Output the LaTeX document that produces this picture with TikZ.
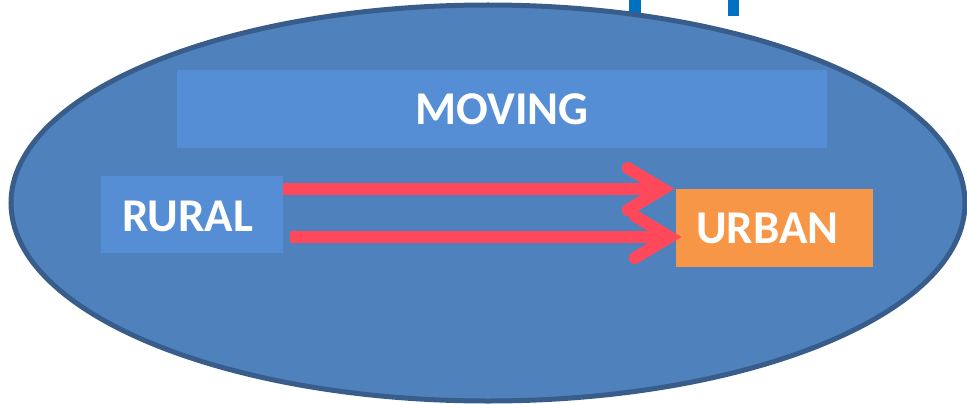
\documentclass[tikz,border=0pt]{standalone}
\usepackage{fontspec}
\setmainfont{Carlito}
\usetikzlibrary{calc}
\definecolor{ellfill}{RGB}{79,129,189}
\definecolor{elldraw}{RGB}{56,93,138}
\definecolor{boxblue}{RGB}{85,142,213}
\definecolor{boxorange}{RGB}{247,150,70}
\definecolor{arrred}{RGB}{255,73,90}
\definecolor{titleblue}{RGB}{0,112,192}
\tikzset{
  box/.style={rectangle, draw=none, inner sep=0pt},
  lbl/.style={inner sep=0pt, text=white, font=\fontsize{47}{50}\selectfont\bfseries},
  shaft/.style={draw=arrred, line width=12pt, line cap=butt},
  barb/.style={draw=arrred, line width=12pt, line cap=round, line join=miter, miter limit=10},
}
\begin{document}
\begin{tikzpicture}[x=1pt,y=-1pt]
\useasboundingbox (0,0) rectangle (967,404);
% partial title strokes behind the ellipse
\fill[titleblue] (629,0) rectangle (641,16);
\fill[titleblue] (728,0) rectangle (739,16);
% ellipse
\filldraw[fill=ellfill, draw=elldraw, line width=5pt] (488,203) ellipse [x radius=477, y radius=198];
% boxes
\node[box, fill=boxblue, minimum width=650pt, minimum height=78pt] (moving) at (502,109) {};
\node[box, fill=boxblue, minimum width=182pt, minimum height=77pt] (rural) at (192,214.5) {};
\node[box, fill=boxorange, minimum width=197pt, minimum height=78pt] (urban) at (774.5,228) {};
% labels
\node[lbl] (movingtxt) at (502,109.5) {MOVING};
\node[lbl] (ruraltxt) at (187.5,216.5) {RURAL};
\node[lbl] (urbantxt) at (767.5,228) {URBAN};
% arrows
\coordinate (tipA) at ($(urban.west |- 0,189)+(-13,0)$);
\coordinate (tipB) at ($(urban.west |- 0,237)+(-6,0)$);
\draw[shaft] (rural.east |- 0,189) -- (tipA);
\draw[shaft] ($(rural.east |- 0,237)+(7,0)$) -- (tipB);
\draw[barb] ($(tipA)+(-35,-21)$) -- (tipA) -- ($(tipA)+(-35,21)$);
\draw[barb] ($(tipB)+(-35,-21)$) -- (tipB) -- ($(tipB)+(-35,21)$);
\end{tikzpicture}
\end{document}
